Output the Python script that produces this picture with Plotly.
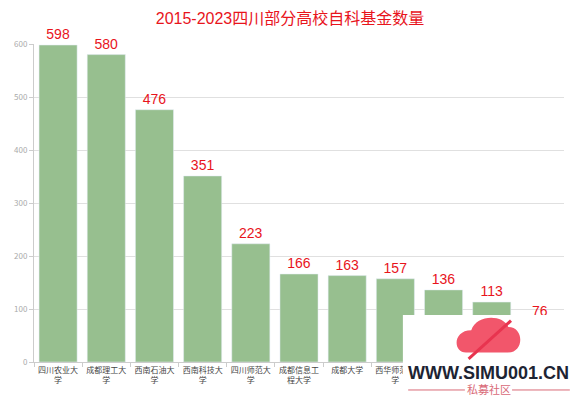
import plotly.graph_objects as go

categories = ["四川农业大学", "成都理工大学", "西南石油大学", "西南科技大学", "四川师范大学",
              "成都信息工程大学", "成都大学", "西华师范大学", "西华大学", "四川轻化工大学", "乐山师范学院"]
values = [598, 580, 476, 351, 223, 166, 163, 157, 136, 113, 76]
# last three labels are hidden by the watermark in the reference
tick_labels = ["四川农业大<br>学", "成都理工大<br>学", "西南石油大<br>学", "西南科技大<br>学", "四川师范大<br>学",
               "成都信息工<br>程大学", "成都大学", "西华师范大<br>学", "", "", ""]
y_ticks = [0, 100, 200, 300, 400, 500, 600]

fig = go.Figure(go.Bar(
    x=categories, y=values, marker_color="#97bf8f", width=0.79,
    text=[str(v) for v in values], textposition="outside",
    textfont=dict(color="#e8141c", size=14, family="Liberation Sans, Arial"),
    cliponaxis=False,
))

fig.update_layout(
    width=580, height=398,
    margin=dict(l=34, r=16, t=44, b=36),
    plot_bgcolor="white", paper_bgcolor="white",
    title=dict(text="2015-2023四川部分高校自科基金数量", x=0.5, xanchor="center", y=0.955, yanchor="middle",
               font=dict(color="#e8141c", size=16, family="Liberation Sans, Noto Sans CJK SC")),
    showlegend=False,
    font=dict(family="Noto Sans CJK SC, Liberation Sans"),
    bargap=0.2,
)
fig.update_xaxes(type="category", tickvals=categories, ticktext=tick_labels, tickangle=0, automargin=False,
                 tickfont=dict(size=8, color="#444"), showline=True, linecolor="#ccc",
                 ticks="outside", ticklen=4, tickcolor="#ccc", tickson="boundaries")
fig.update_yaxes(range=[0, 600], tickvals=y_ticks, tickfont=dict(size=8, color="#aaa"), automargin=False,
                 showgrid=True, gridcolor="#e0e0e0", showline=True, linecolor="#ccc",
                 ticks="outside", ticklen=4, tickcolor="#ccc", zeroline=False)

# watermark overlay
fig.add_shape(type="rect", xref="paper", yref="paper", x0=0.696, x1=1.04, y0=-0.2, y1=0.148,
              fillcolor="white", line_width=0, layer="above")
fig.add_shape(type="path", xref="paper", yref="paper",
              path="M 0.815,0.03 C 0.79,0.03 0.79,0.10 0.825,0.10 C 0.835,0.15 0.885,0.15 0.895,0.11 C 0.925,0.11 0.925,0.03 0.895,0.03 Z",
              fillcolor="#f2566b", line_width=0, layer="above")
fig.add_shape(type="line", xref="paper", yref="paper", x0=0.82, x1=0.9, y0=0.01, y1=0.13,
              line=dict(color="#e8344f", width=3), layer="above")
fig.add_annotation(text="<b>WWW.SIMU001.CN</b>", xref="paper", yref="paper", x=0.858, y=-0.035,
                   xanchor="center", yanchor="middle",
                   showarrow=False, font=dict(size=18, color="#1d2433", family="Liberation Sans"))
fig.add_annotation(text="私募社区", xref="paper", yref="paper", x=0.858, y=-0.086,
                   xanchor="center", yanchor="middle",
                   showarrow=False, font=dict(size=11, color="#d96a78", family="Noto Sans CJK SC"))
fig.add_shape(type="line", xref="paper", yref="paper", x0=0.706, x1=0.813, y0=-0.088, y1=-0.088,
              line=dict(color="#d96a78", width=1), layer="above")
fig.add_shape(type="line", xref="paper", yref="paper", x0=0.902, x1=1.011, y0=-0.088, y1=-0.088,
              line=dict(color="#d96a78", width=1), layer="above")

fig.write_html("out.html")
